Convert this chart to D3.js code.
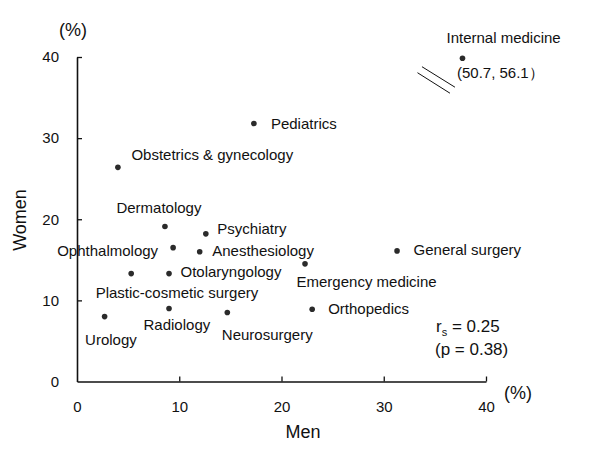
<!DOCTYPE html>
<html>
<head>
<meta charset="utf-8">
<script src="https://cdn.jsdelivr.net/npm/d3@7"></script>
<style>
  html, body { margin: 0; padding: 0; background: #fff; }
  svg { display: block; font-family: "Liberation Sans", Arial, sans-serif; }
</style>
</head>
<body>
<svg id="chart" width="600" height="450"></svg>
<script>
// ---- data ----
const specialties = [
  "Internal medicine", "Pediatrics", "Obstetrics & gynecology", "Dermatology",
  "Psychiatry", "Ophthalmology", "Anesthesiology", "Emergency medicine",
  "Plastic-cosmetic surgery", "Otolaryngology", "Radiology", "Urology",
  "Neurosurgery", "Orthopedics", "General surgery"
];
const menPct   = [50.7, 17.3, 4.0, 8.6, 12.6, 9.4, 12.0, 22.3, 5.3, 9.0, 9.0, 2.7, 14.7, 23.0, 31.3];
const womenPct = [56.1, 31.8, 26.4, 19.1, 18.2, 16.5, 16.0, 14.5, 13.3, 13.3, 9.0, 8.0, 8.5, 8.9, 16.1];
const xTicks = [0, 10, 20, 30, 40];
const yTicks = [0, 10, 20, 30, 40];
const rsText = "0.25";
const pText = "0.38";

// ---- layout (label placement relative to each point) ----
const labelLayout = [
  {dx: -16, dy: -15, anchor: "start"},
  {dx: 17, dy: 5, anchor: "start"},
  {dx: 13.5, dy: -7.5, anchor: "start"},
  {dx: -48.5, dy: -13.5, anchor: "start"},
  {dx: 11.5, dy: 0, anchor: "start"},
  {dx: -15, dy: 8, anchor: "end"},
  {dx: 12.5, dy: 4.5, anchor: "start"},
  {dx: -8.5, dy: 23, anchor: "start"},
  {dx: -35.5, dy: 24, anchor: "start"},
  {dx: 11.5, dy: 3, anchor: "start"},
  {dx: -25.5, dy: 21.5, anchor: "start"},
  {dx: -19.5, dy: 28.5, anchor: "start"},
  {dx: -5.5, dy: 27.5, anchor: "start"},
  {dx: 16, dy: 4.5, anchor: "start"},
  {dx: 16.5, dy: 4.5, anchor: "start"}
];
// where an off-scale point is drawn (axis break), in data units
const breakAt = {x: 37.7, y: 39.85};

const svg = d3.select("#chart");
const x = d3.scaleLinear().domain([0, 40]).range([77, 486]);
const y = d3.scaleLinear().domain([0, 40]).range([381.5, 57]);

const ink = "#111";

// axes
const xAxis = d3.axisBottom(x).tickValues(xTicks).tickSizeInner(-5).tickSizeOuter(0).tickPadding(19.5);
const yAxis = d3.axisLeft(y).tickValues(yTicks).tickSizeInner(-5).tickSizeOuter(0).tickPadding(18);

const gx = svg.append("g").attr("transform", `translate(0,${y(0)})`).call(xAxis);
const gy = svg.append("g").attr("transform", `translate(${x(0)},0)`).call(yAxis);
[gx, gy].forEach(g => {
  g.select(".domain").attr("stroke", ink).attr("stroke-width", 1.6);
  g.selectAll(".tick line").attr("stroke", ink).attr("stroke-width", 1.3);
  g.selectAll(".tick text").attr("fill", ink).style("font-size", "15px")
   .style("font-family", '"Liberation Sans", Arial, sans-serif');
});
// remove the duplicated zero tick on x tick line (keep labels)
gx.selectAll(".tick").filter(d => d === 0).select("line").remove();
gy.selectAll(".tick").filter(d => d === 0).select("line").remove();

// axis titles & units
svg.append("text").attr("x", 303).attr("y", 438).attr("text-anchor", "middle")
  .style("font-size", "18px").attr("fill", ink).text("Men");
svg.append("text").attr("transform", "translate(26,220) rotate(-90)").attr("text-anchor", "middle")
  .style("font-size", "18px").attr("fill", ink).text("Women");
svg.append("text").attr("x", 73).attr("y", 36).attr("text-anchor", "middle")
  .style("font-size", "18px").attr("fill", ink).text("(%)");
svg.append("text").attr("x", 504).attr("y", 399).attr("text-anchor", "start")
  .style("font-size", "18px").attr("fill", ink).text("(%)");

// points
const pts = specialties.map((name, i) => {
  const off = menPct[i] > x.domain()[1] || womenPct[i] > y.domain()[1];
  const dx = off ? breakAt.x : menPct[i];
  const dy = off ? breakAt.y : womenPct[i];
  return {name, men: menPct[i], women: womenPct[i], off, px: x(dx), py: y(dy), lay: labelLayout[i]};
});

svg.append("g").selectAll("circle").data(pts).join("circle")
  .attr("cx", d => d.px).attr("cy", d => d.py).attr("r", 2.8).attr("fill", "#2b2b2b");

svg.append("g").selectAll("text").data(pts).join("text")
  .attr("x", d => d.px + d.lay.dx).attr("y", d => d.py + d.lay.dy)
  .attr("text-anchor", d => d.lay.anchor)
  .style("font-size", "15px").attr("fill", ink).text(d => d.name);

// off-scale value annotation and break marks
pts.filter(d => d.off).forEach(d => {
  svg.append("text").attr("x", d.px - 5.5).attr("y", d.py + 20)
    .style("font-size", "15px").attr("fill", ink)
    .text(`(${d.men}, ${d.women}\uFF09`);
  const g = svg.append("g").attr("stroke", ink).attr("stroke-width", 1);
  g.append("line").attr("x1", d.px - 45).attr("y1", d.py + 14.5).attr("x2", d.px - 12.5).attr("y2", d.py + 35);
  g.append("line").attr("x1", d.px - 40.5).attr("y1", d.py + 8.5).attr("x2", d.px - 7.5).attr("y2", d.py + 29);
});

// correlation annotation
const rs = svg.append("text").attr("x", 436).attr("y", 331.5).style("font-size", "17px").attr("fill", ink);
rs.append("tspan").text("r");
rs.append("tspan").attr("dy", 4).style("font-size", "11px").text("s");
rs.append("tspan").attr("dy", -4).text(` = ${rsText}`);
svg.append("text").attr("x", 435).attr("y", 355).style("font-size", "17px").attr("fill", ink)
  .text(`(p = ${pText})`);
</script>
</body>
</html>
